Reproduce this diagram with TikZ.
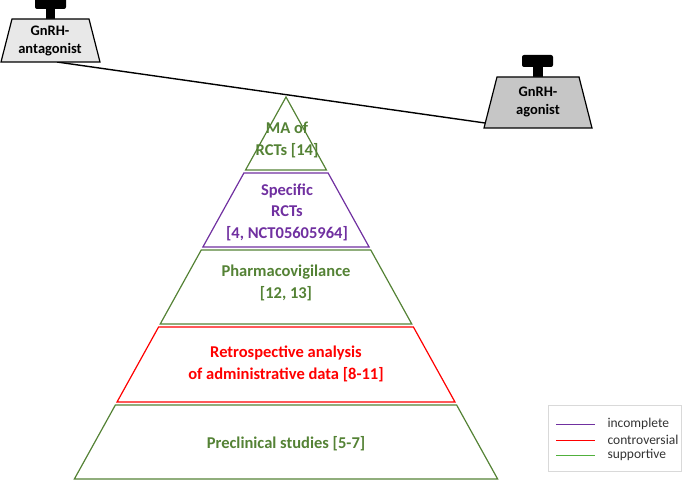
\documentclass[tikz,border=0pt]{standalone}
\usepackage{fontspec}
\setmainfont{Carlito}
\usetikzlibrary{positioning}
\definecolor{evgreen}{RGB}{84,130,53}
\definecolor{evpurple}{RGB}{112,48,160}
\definecolor{evred}{RGB}{255,0,0}
\definecolor{legreen}{RGB}{80,176,60}

\begin{document}
\begin{tikzpicture}[x=1pt,y=-1pt,
  layer/.style={line width=1.2pt},
  lbl/.style={font=\bfseries\fontsize{16.5}{21.5}\selectfont, align=center},
  weightlbl/.style={font=\bfseries\fontsize{14.5}{17.5}\selectfont, align=center},
  weight/.style={draw=black, line width=1.2pt},
  legtext/.style={font=\fontsize{13.5}{15}\selectfont, text=black!80, anchor=west}]
\useasboundingbox (0,0) rectangle (685,481);

% balance beam
\coordinate (beamL) at (57,62);
\coordinate (beamR) at (485,123);
\draw[line width=1.4pt] (beamL) -- (beamR);

% pyramid, apex at (286,97)
\foreach \ya/\yb/\col in {97/170/evgreen,173/247/evpurple,250/324/evgreen,327/402/evred,405/479/evgreen}
  \draw[layer,\col] ({286-0.554*(\ya-97)},\ya) -- ({286+0.554*(\ya-97)},\ya)
    -- ({286+0.554*(\yb-97)},\yb) -- ({286-0.554*(\yb-97)},\yb) -- cycle;

\node[lbl, text=evgreen] (ma) at (287,140) {MA of\\RCTs [14]};
\node[lbl, text=evpurple] (rct) at (287,212) {Specific\\RCTs\\{[4, NCT05605964]}};
\node[lbl, text=evgreen] (pv) at (286,283) {Pharmacovigilance\\{[12, 13]}};
\node[lbl, text=evred] (retro) at (286,364) {Retrospective analysis\\of administrative data [8-11]};
\node[lbl, text=evgreen] (precl) at (286,444) {Preclinical studies [5-7]};

% weights
\fill[rounded corners=2pt] (35,-4) rectangle (66,9);
\fill (46,8) rectangle (55,19);
\draw[weight, fill=gray!18] (12,19) -- (89,19) -- (100,62) -- (1,62) -- cycle;
\node[weightlbl] (antag) at (50,41) {GnRH-\\antagonist};

\fill[rounded corners=2pt] (522,55) rectangle (553,67);
\fill (533,66) rectangle (543,77);
\draw[weight, fill=gray!45] (497,77) -- (579,77) -- (592,128) -- (484,128) -- cycle;
\node[weightlbl] (agon) at (538,102) {GnRH-\\agonist};

% legend
\draw[gray!30] (548,405) rectangle (681,471);
\foreach \yy/\col/\txt/\nm in {424/evpurple/incomplete/inc,440/evred/controversial/contr,455/legreen/supportive/supp}{
  \draw[\col, line width=1pt] (556,\yy) -- (595,\yy);
  \node[legtext] (leg\nm) at (604,\yy) {\txt};
}
\end{tikzpicture}
\end{document}
